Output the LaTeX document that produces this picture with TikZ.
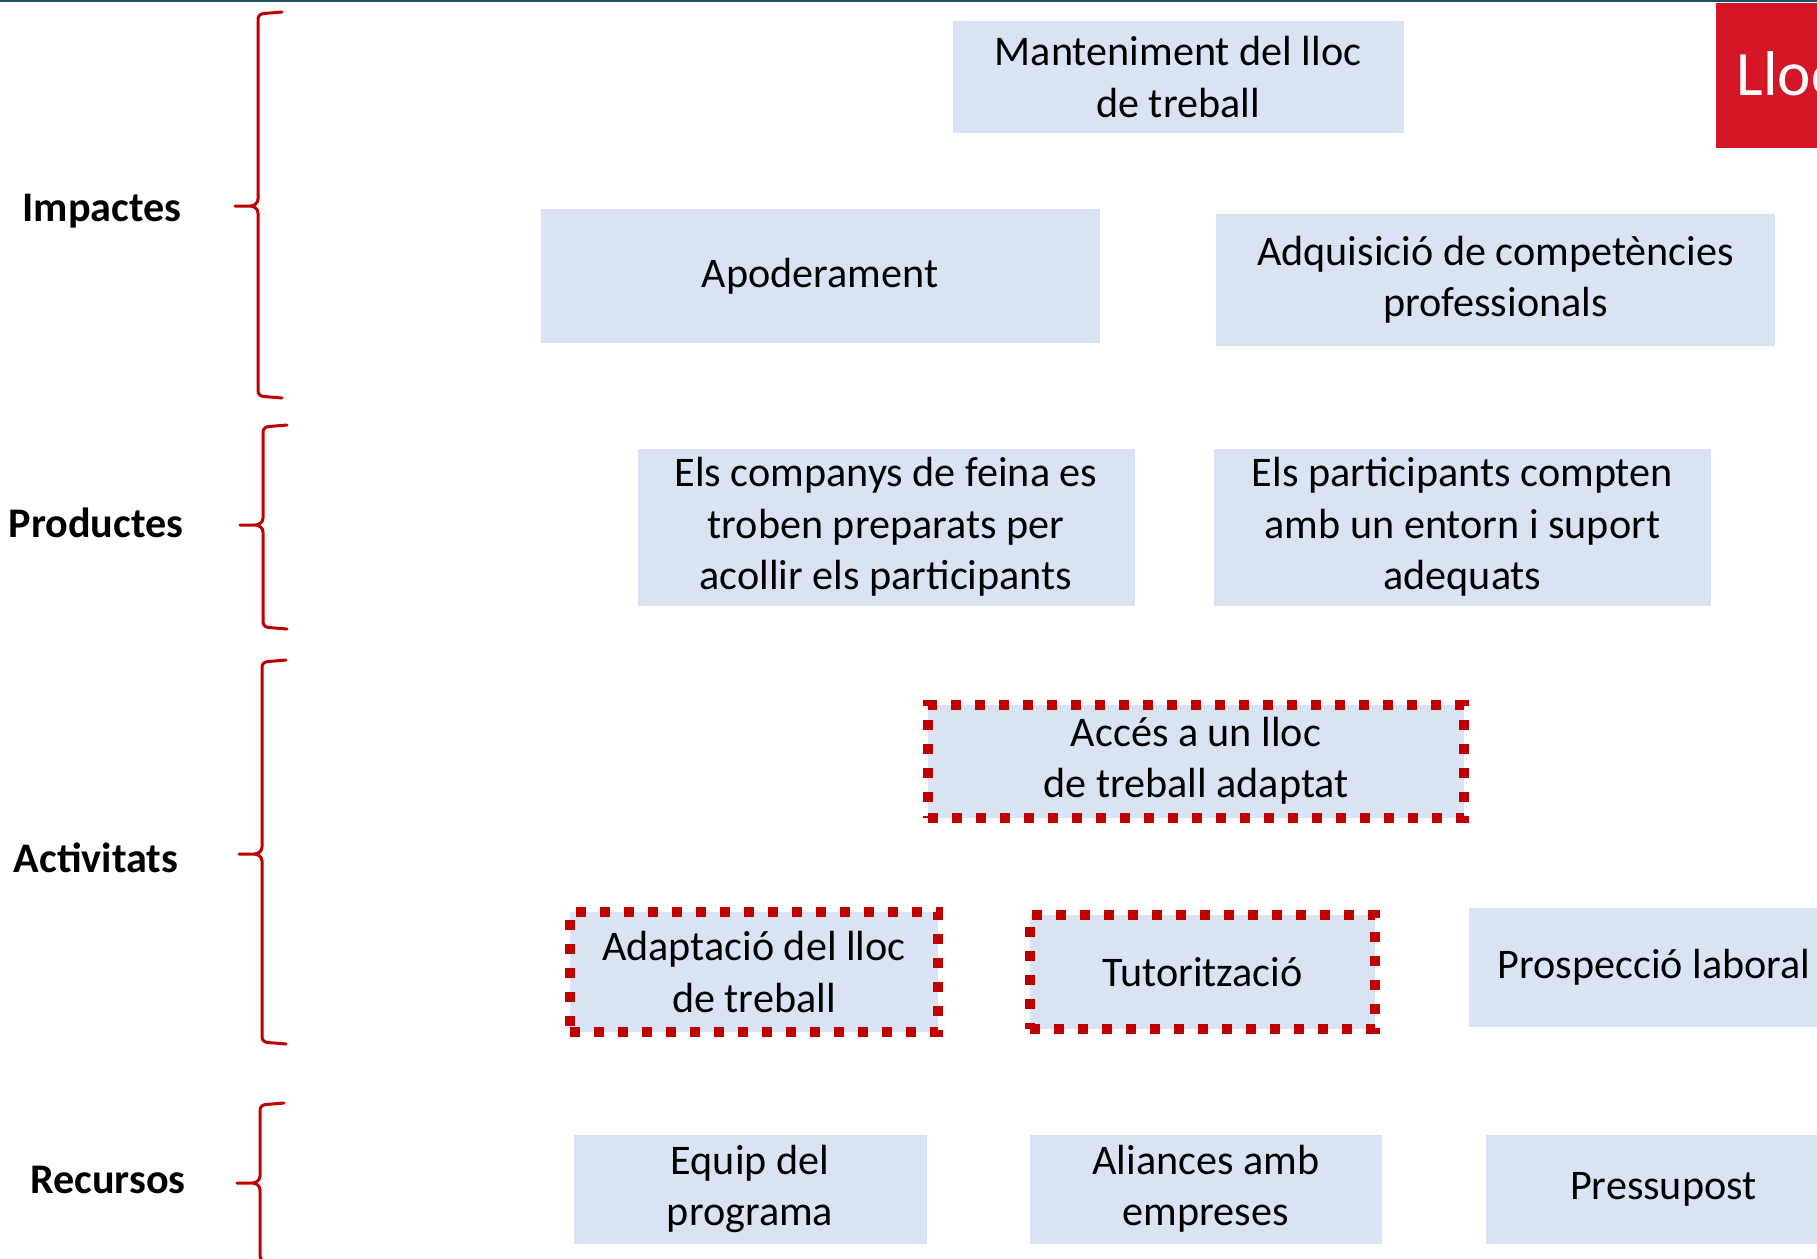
\documentclass[tikz,border=0pt]{standalone}
\usepackage{fontspec}
\setmainfont{Carlito}
\usepackage{tikz}
\usetikzlibrary{positioning}
\definecolor{boxblue}{RGB}{218,227,243}
\definecolor{dred}{RGB}{192,0,0}
\definecolor{titlered}{RGB}{213,22,38}
\definecolor{topblue}{RGB}{31,78,105}

\begin{document}
\begin{tikzpicture}
[node distance=1cm,
box/.style={fill=boxblue, inner sep=0pt, align=center, font=\fontsize{12}{14.6}\selectfont},
dbox/.style={box, draw=dred, line width=0.1cm, dash pattern=on 0.1cm off 0.14cm},
lbl/.style={font=\fontsize{12}{14.6}\selectfont\bfseries},
brc/.style={draw=dred, line width=0.03cm, line cap=round, line join=round}]
\useasboundingbox (0,0) rectangle (18.17,-12.58);
\draw[topblue, line width=0.04cm] (0,0) -- (18.17,0);

% title block, cut by the page edge
\fill[titlered] (17.16,-0.03) rectangle (18.40,-1.48);
\node[anchor=base west, text=white, inner sep=0pt, font=\fontsize{18}{20}\selectfont] (title) at (17.36,-0.95) {Lloc};

% impactes
\node[box, minimum width=4.51cm, minimum height=1.12cm] (mant) at (11.78,-0.77) {Manteniment del lloc\\de treball};
\node[box, minimum width=5.59cm, minimum height=1.34cm] (apod) at (8.20,-2.76) {Apoderament};
\node[box, minimum width=5.59cm, minimum height=1.32cm] (adqu) at (14.955,-2.80) {Adquisició de competències\\professionals};

% productes
\node[box, minimum width=4.97cm, minimum height=1.57cm] (comp) at (8.86,-5.27) {Els companys de feina es\\troben preparats per\\acollir els participants};
\node[box, minimum width=4.97cm, minimum height=1.57cm, right=0.78 of comp] (part) {Els participants compten\\amb un entorn i suport\\adequats};

% activitats
\node[dbox, minimum width=5.36cm, minimum height=1.13cm] (acces) at (11.96,-7.61) {Accés a un lloc\\de treball adaptat};
\node[dbox, minimum width=3.68cm, minimum height=1.20cm] (adap) at (7.54,-9.72) {Adaptació del lloc\\de treball};
\node[dbox, minimum width=3.45cm, minimum height=1.14cm, right=0.82 of adap] (tuto) {Tutorització};
\node[box, minimum width=3.70cm, minimum height=1.19cm] (prosp) at (16.54,-9.67) {Prospecció laboral};

% recursos
\node[box, minimum width=3.53cm, minimum height=1.09cm] (equip) at (7.50,-11.89) {Equip del\\programa};
\node[box, minimum width=3.52cm, minimum height=1.09cm, right=1.02 of equip] (alian) {Aliances amb\\empreses};
\node[box, minimum width=3.54cm, minimum height=1.09cm, right=1.03 of alian] (press) {Pressupost};

% nivells
\foreach \nm/\txt/\lx/\ly/\tp/\tip/\bt/\xv in {imp/Impactes/1.02/2.11/0.12/2.06/3.98/2.58,
    prod/Productes/0.96/5.23/4.25/5.25/6.29/2.63,
    act/Activitats/0.96/8.58/6.60/8.54/10.44/2.62,
    rec/Recursos/1.08/11.80/11.03/11.83/12.63/2.60}{
  \node[lbl] (\nm) at (\lx,-\ly) {\txt};
  \draw[brc] (\xv+0.24,-\tp) -- (\xv+0.06,-\tp-0.015) to[out=180,in=90] (\xv,-\tp-0.07)
    -- (\xv,-\tip+0.07) to[out=-90,in=0] (\xv-0.08,-\tip) -- (\xv-0.23,-\tip)
    -- (\xv-0.08,-\tip) to[out=0,in=90] (\xv,-\tip-0.07)
    -- (\xv,-\bt+0.07) to[out=-90,in=180] (\xv+0.06,-\bt+0.015) -- (\xv+0.24,-\bt);
}
\end{tikzpicture}
\end{document}
